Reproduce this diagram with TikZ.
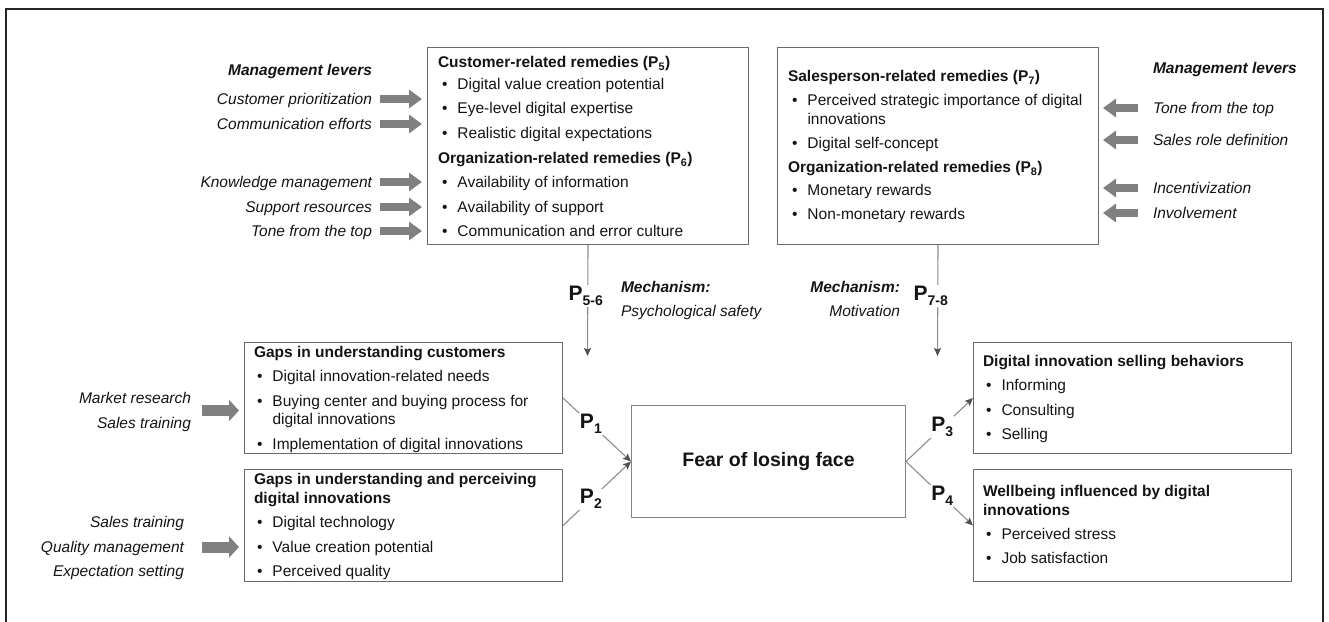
\documentclass[tikz,border=0pt]{standalone}
\usepackage{fontspec}
\setmainfont{Liberation Sans}
\usetikzlibrary{arrows.meta,calc}

\definecolor{ink}{HTML}{141414}
\definecolor{boxline}{HTML}{6A6A6A}
\definecolor{fearline}{HTML}{7088AC}
\definecolor{levergray}{HTML}{808080}
\definecolor{connline}{HTML}{8C8C8C}
\definecolor{tipgray}{HTML}{505050}
\definecolor{frameline}{HTML}{262626}

\tikzset{
  base/.style={inner sep=0pt, outer sep=0pt, text=ink,
    font=\fontsize{15.5}{18}\selectfont, text height=11.1pt, text depth=0pt},
  ttl/.style={base, font=\fontsize{15.5}{18}\selectfont\bfseries, anchor=west},
  itm/.style={base, anchor=west},
  lev/.style={base, font=\fontsize{15.5}{18}\selectfont\itshape},
  levhead/.style={base, font=\fontsize{15.5}{18}\selectfont\bfseries\itshape},
  panel/.style={draw=boxline, line width=1pt, anchor=north west, inner sep=0pt},
  lever/.style={draw=levergray, line width=7.5pt,
    -{Triangle[length=13pt,width=18pt,color=levergray,fill=levergray]}},
  leverbig/.style={draw=levergray, line width=11pt,
    -{Triangle[length=10pt,width=21pt,color=levergray,fill=levergray]}},
  conn/.style={draw=connline, line width=1.1pt,
    -{Stealth[length=8pt,width=7pt,inset=1.5pt,color=tipgray,fill=tipgray]}},
  plab/.style={fill=white, inner sep=1pt, text=ink},
}
\newcommand{\bul}[1]{\makebox[15.5pt][l]{\textbullet}#1}
\newcommand{\plabel}[2]{{\fontsize{21}{21}\selectfont\bfseries #1}\raisebox{-5pt}{\fontsize{14}{14}\selectfont\bfseries #2}}

\begin{document}
\begin{tikzpicture}[x=1pt,y=-1pt]
\useasboundingbox (0,0) rectangle (1329,621);

% outer frame (open at the bottom)
\draw[frameline, line width=2pt] (5.5,630) -- (5.5,8.5) -- (1323,8.5) -- (1323,630);

% ---------- panels ----------
\node[panel, minimum width=321pt, minimum height=197pt] (cust) at (427,47) {};
\node[panel, minimum width=321pt, minimum height=197pt] (sales) at (777,47) {};
\node[panel, minimum width=318pt, minimum height=111pt] (gapc) at (244,342) {};
\node[panel, minimum width=318pt, minimum height=112pt] (gapd) at (244,469) {};
\node[panel, minimum width=318pt, minimum height=111pt] (dis) at (973,342) {};
\node[panel, minimum width=318pt, minimum height=112pt] (well) at (973,469) {};
\node[panel, draw=fearline, minimum width=274pt, minimum height=112pt,
      text=ink, font=\fontsize{19.5}{22}\selectfont\bfseries] (fear) at (631,405) {Fear of losing face};

% ---------- customer / organization remedies ----------
\node[ttl] (custT) at (438,62) {Customer-related remedies (P\textsubscript{5})};
\foreach \y/\t [count=\i] in {84/Digital value creation potential,
    108/Eye-level digital expertise, 133/Realistic digital expectations}
  \node[itm] (custI\i) at (442,\y) {\bul{\t}};
\node[ttl] (orgT) at (438,158) {Organization-related remedies (P\textsubscript{6})};
\foreach \y/\t [count=\i] in {182/Availability of information,
    207/Availability of support, 231/Communication and error culture}
  \node[itm] (orgI\i) at (442,\y) {\bul{\t}};

% ---------- salesperson / organization remedies ----------
\node[ttl] (salesT) at (788,76) {Salesperson-related remedies (P\textsubscript{7})};
\node[itm] (salesI1) at (792,100) {\bul{Perceived strategic importance of digital}};
\node[itm] (salesI1b) at (807.5,119) {innovations};
\node[itm] (salesI2) at (792,143) {\bul{Digital self-concept}};
\node[ttl] (org2T) at (788,167) {Organization-related remedies (P\textsubscript{8})};
\node[itm] (org2I1) at (792,190) {\bul{Monetary rewards}};
\node[itm] (org2I2) at (792,214) {\bul{Non-monetary rewards}};

% ---------- gaps ----------
\node[ttl] (gapcT) at (254,352) {Gaps in understanding customers};
\node[itm] (gapcI1) at (257,376) {\bul{Digital innovation-related needs}};
\node[itm] (gapcI2) at (257,401) {\bul{Buying center and buying process for}};
\node[itm] (gapcI2b) at (272.5,419) {digital innovations};
\node[itm] (gapcI3) at (257,444) {\bul{Implementation of digital innovations}};

\node[ttl] (gapdT) at (254,479) {Gaps in understanding and perceiving};
\node[ttl] (gapdTb) at (254,498) {digital innovations};
\foreach \y/\t [count=\i] in {522/Digital technology,
    547/Value creation potential, 571/Perceived quality}
  \node[itm] (gapdI\i) at (257,\y) {\bul{\t}};

% ---------- outcomes ----------
\node[ttl] (disT) at (983,361) {Digital innovation selling behaviors};
\foreach \y/\t [count=\i] in {385/Informing, 410/Consulting, 434/Selling}
  \node[itm] (disI\i) at (986,\y) {\bul{\t}};

\node[ttl] (wellT) at (983,491) {Wellbeing influenced by digital};
\node[ttl] (wellTb) at (983,510) {innovations};
\foreach \y/\t [count=\i] in {534/Perceived stress, 558/Job satisfaction}
  \node[itm] (wellI\i) at (986,\y) {\bul{\t}};

% ---------- management levers, left ----------
\node[levhead, anchor=east] (lvh) at (372,70) {Management levers};
\node[lev, anchor=east] (cp) at (372,99) {Customer prioritization};
\node[lev, anchor=east] (ce) at (372,124) {Communication efforts};
\node[lev, anchor=east] (km) at (372,182) {Knowledge management};
\node[lev, anchor=east] (sr) at (372,207) {Support resources};
\node[lev, anchor=east] (tt) at (372,231) {Tone from the top};
\foreach \n in {cp,ce,km,sr,tt}
  \draw[lever] ([xshift=8pt]\n.east) -- ([xshift=-5pt]\n.east -| cust.west);

% ---------- management levers, right ----------
\node[levhead, anchor=west] (rvh) at (1153,68) {Management levers};
\node[lev, anchor=west] (rt) at (1153,108) {Tone from the top};
\node[lev, anchor=west] (rs) at (1153,140) {Sales role definition};
\node[lev, anchor=west] (ri) at (1153,188) {Incentivization};
\node[lev, anchor=west] (rv) at (1153,213) {Involvement};
\foreach \n in {rt,rs,ri,rv}
  \draw[lever] ([xshift=-15pt]\n.west) -- ([xshift=4pt]\n.west -| sales.east);

% ---------- levers for the gaps ----------
\node[lev, anchor=east] (mr) at (191,398) {Market research};
\node[lev, anchor=east] (st1) at (191,423) {Sales training};
\node[lev, anchor=east] (st2) at (184,522) {Sales training};
\node[lev, anchor=east] (qm) at (184,547) {Quality management};
\node[lev, anchor=east] (es) at (184,571) {Expectation setting};
\coordinate (mrst) at ($(mr.east)!0.5!(st1.east)$);
\draw[leverbig] ([xshift=11pt]mrst) -- ([xshift=-5pt]mrst -| gapc.west);
\draw[leverbig] ([xshift=18pt]qm.east) -- ([xshift=-5pt]qm.east -| gapd.west);

% ---------- mechanisms ----------
\node[levhead, anchor=west] (mechL) at (621,287) {Mechanism:};
\node[lev, anchor=west] (mechLt) at (621,311) {Psychological safety};
\node[levhead, anchor=east] (mechR) at (900,287) {Mechanism:};
\node[lev, anchor=east] (mechRt) at (900,311) {Motivation};

\coordinate (m1) at (587.5,356);
\coordinate (m2) at (937.5,356);
\draw[conn] (cust.south) -- node[plab, pos=0.46, xshift=-2pt] (p56) {\plabel{P}{5-6}} (m1);
\draw[conn] (sales.south) -- node[plab, pos=0.46, xshift=-7pt] (p78) {\plabel{P}{7-8}} (m2);

% ---------- propositions P1-P4 ----------
\draw[conn] (gapc.east) -- node[plab, pos=0.41] (p1) {\plabel{P}{1}} (fear.west);
\draw[conn] (gapd.east) -- node[plab, pos=0.41] (p2) {\plabel{P}{2}} (fear.west);
\draw[conn] (fear.east) -- node[plab, pos=0.54] (p3) {\plabel{P}{3}} (dis.west);
\draw[conn] (fear.east) -- node[plab, pos=0.54] (p4) {\plabel{P}{4}} (well.west);
\end{tikzpicture}
\end{document}
